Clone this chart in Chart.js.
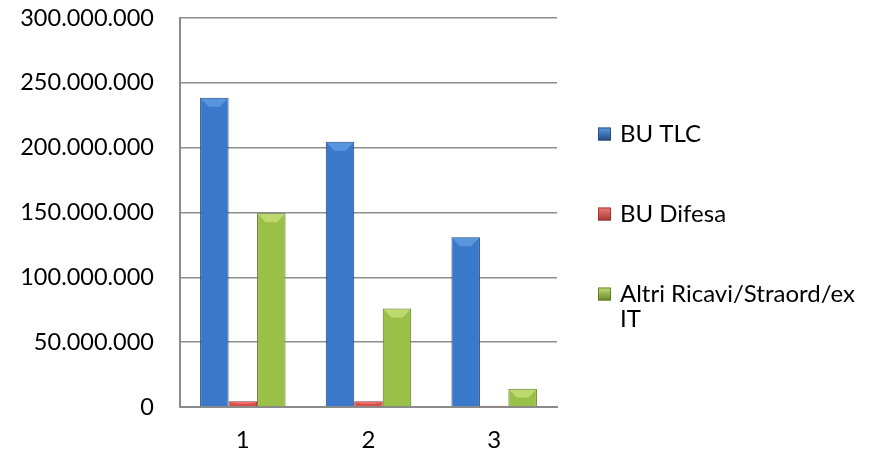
<!DOCTYPE html>
<html>
<head>
<meta charset="utf-8">
<script src="https://cdn.jsdelivr.net/npm/chart.js@4"></script>
<style>
html,body{margin:0;padding:0;background:#fff;}
#wrap{width:881px;height:453px;position:relative;}
</style>
</head>
<body>
<div id="wrap"><canvas id="c" width="881" height="453"></canvas></div>
<script>
const categories = ['1', '2', '3'];
const seriesNames = ['BU TLC', 'BU Difesa', 'Altri Ricavi/Straord/ex IT'];
const buTlc = [238500000, 204500000, 131000000];
const buDifesa = [4500000, 4500000, 1000000];
const altriRicavi = [149500000, 76000000, 14000000];
const yMin = 0, yMax = 300000000, yStep = 50000000;

const palettes = [
  {edge:'#244a82', mid:'#3a78c9', light:'#5d9be2', border:'#214479'},
  {edge:'#a83533', mid:'#dc4e4b', light:'#ee7d7a', border:'#943030'},
  {edge:'#67862a', mid:'#9bc048', light:'#c2de78', border:'#5b7625'}
];

function fmt(v){
  const s = Math.round(v).toString();
  return s.replace(/\B(?=(\d{3})+(?!\d))/g, '.');
}

function barFill(idx){
  return function(ctx){
    const el = ctx.element;
    const p = palettes[idx];
    if(!el || !isFinite(el.x) || !isFinite(el.width)) return p.mid;
    const c = ctx.chart.ctx;
    const x0 = el.x - el.width/2, x1 = el.x + el.width/2;
    const g = c.createLinearGradient(x0, 0, x1, 0);
    g.addColorStop(0, p.edge);
    g.addColorStop(0.15, p.mid);
    g.addColorStop(0.5, p.mid);
    g.addColorStop(0.85, p.mid);
    g.addColorStop(1, p.edge);
    return g;
  };
}

const FONT = 'Lato, "Open Sans", sans-serif';

const bevelPlugin = {
  id:'bevel',
  afterDatasetsDraw(chart){
    const c = chart.ctx;
    chart.data.datasets.forEach((ds, i)=>{
      const meta = chart.getDatasetMeta(i);
      const p = palettes[i];
      meta.data.forEach(bar=>{
        const x0 = bar.x - bar.width/2, x1 = bar.x + bar.width/2;
        const top = bar.y, bot = bar.base;
        const h = bot - top;
        const d = Math.min(9, h/2);
        if(d < 1.5) return;
        c.save();
        c.fillStyle = p.light;
        c.globalAlpha = 0.85;
        c.beginPath();
        c.moveTo(x0+1, top+1);
        c.lineTo(x1-1, top+1);
        c.lineTo(bar.x + bar.width*0.2, top + d);
        c.lineTo(bar.x - bar.width*0.2, top + d);
        c.closePath();
        c.fill();
        c.restore();
      });
    });
  }
};

const legendPlugin = {
  id:'sideLegend',
  afterDraw(chart){
    const c = chart.ctx;
    const x = 598, box = 13, textX = 620, maxW = 255;
    const ys = [134, 214, 294];
    const lineH = 25;
    c.save();
    c.font = '24px ' + FONT;
    c.textBaseline = 'middle';
    c.textAlign = 'left';
    chart.data.datasets.forEach((ds, i)=>{
      const p = palettes[i];
      const y = ys[i];
      const g = c.createLinearGradient(0, y-box/2, 0, y+box/2);
      g.addColorStop(0, p.light);
      g.addColorStop(1, p.edge);
      c.fillStyle = g;
      c.fillRect(x, y-box/2, box, box);
      c.strokeStyle = p.border;
      c.lineWidth = 0.8;
      c.strokeRect(x+0.5, y-box/2+0.5, box-1, box-1);
      const words = ds.label.split(' ');
      const lines = [];
      let cur = '';
      words.forEach(w=>{
        const t = cur ? cur + ' ' + w : w;
        if(c.measureText(t).width > maxW && cur){ lines.push(cur); cur = w; }
        else cur = t;
      });
      if(cur) lines.push(cur);
      c.fillStyle = '#000';
      lines.forEach((ln, k)=>{ c.fillText(ln, textX, y + k*lineH); });
    });
    c.restore();
  }
};

const datasets = [buTlc, buDifesa, altriRicavi].map((vals, i)=>({
  label: seriesNames[i],
  data: vals,
  backgroundColor: barFill(i),
  borderColor: palettes[i].border,
  borderWidth: 1,
  borderSkipped: 'bottom',
  barPercentage: 1.0,
  categoryPercentage: 0.68
}));

new Chart(document.getElementById('c'), {
  type:'bar',
  data:{ labels: categories, datasets },
  plugins:[bevelPlugin, legendPlugin],
  options:{
    responsive:false,
    animation:false,
    devicePixelRatio:1,
    layout:{ padding:{ top:18, right:324, left:0, bottom:0 } },
    plugins:{ legend:{display:false}, tooltip:{enabled:false} },
    scales:{
      x:{
        grid:{ display:false, drawTicks:false },
        border:{ display:true, color:'#8a8a8a', width:2 },
        ticks:{ color:'#000', font:{ family:FONT, size:24 }, padding:19 },
        afterFit(s){ s.height = 46; s.paddingLeft = 0; s.paddingRight = 0; }
      },
      y:{
        min:yMin, max:yMax,
        grid:{ color:'#8e8e8e', lineWidth:1.5, drawTicks:false },
        border:{ display:true, color:'#8a8a8a', width:2 },
        ticks:{ stepSize:yStep, color:'#000', font:{ family:FONT, size:23.5 }, padding:26,
          callback:(v)=>fmt(v) },
        afterFit(s){ s.width = 180; s.paddingTop = 0; s.paddingBottom = 0; }
      }
    }
  }
});
</script>
</body>
</html>
